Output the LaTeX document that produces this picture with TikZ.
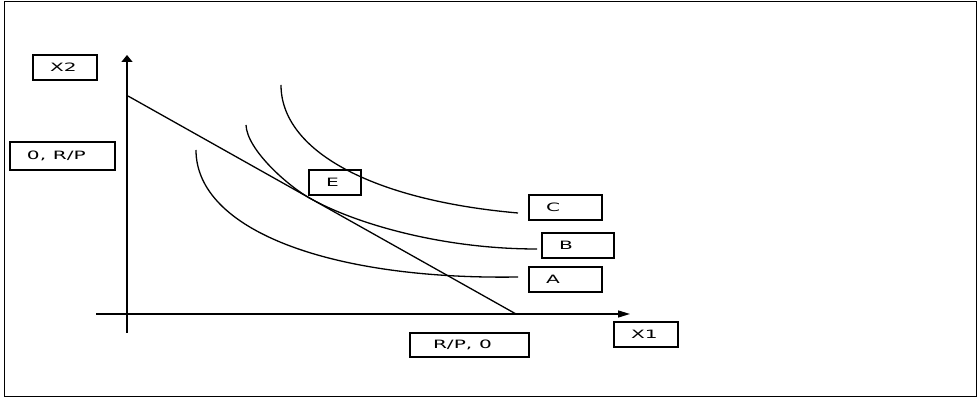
\documentclass[tikz,border=0pt]{standalone}
\usepackage{fontspec}
\usepackage{graphicx}
\newfontfamily\boxfont{DejaVu Sans}
\newcommand{\widetxt}[1]{\scalebox{1.75}[1]{#1}}
\usetikzlibrary{arrows.meta, positioning}

\begin{document}
\begin{tikzpicture}[
    x=1pt, y=1pt,
    lbl/.style={draw, line width=1.3pt, inner xsep=17pt, inner ysep=0pt, text width=#1, align=left, minimum height=25pt, font=\boxfont\fontsize{11.5}{12}\selectfont},
    curve/.style={line width=1.3pt}
]
    \useasboundingbox (0,0) rectangle (979,398);
    \draw[line width=1.4pt] (4.5,1.5) rectangle (976.5,396.5);
    \node[lbl=30pt] (x2) at (65,330.5) {\widetxt{X2}};
    \node[lbl=71pt, minimum height=28pt] (yint) at (62.5,242) {\widetxt{0, R/P}};
    \node[lbl=18pt] (e) at (335,215.5) {\widetxt{E}};
    \node[lbl=39pt] (c) at (565.5,190.5) {\widetxt{C}};
    \node[lbl=38pt] (b) at (578,152.5) {\widetxt{B}};
    \node[lbl=39pt] (a) at (565.5,118.5) {\widetxt{A}};
    \node[lbl=30pt] (x1) at (646,63.5) {\widetxt{X1}};
    \node[lbl=85pt, minimum height=24pt] (xint) at (469.5,53) {\hspace*{6pt}\widetxt{R/P, 0}};
    \coordinate (ybot) at (127,65);
    \coordinate (ytop) at (127,343);
    \coordinate (xleft) at (96,84);
    \coordinate (xright) at (630,84);
    \coordinate (bl1) at (128,302);
    \coordinate (bl2) at (516,84);
    \coordinate (tang) at (310,199.7);
    \draw[line width=1.4pt, -{Triangle[length=7pt,width=11pt]}] (ybot) -- (ytop);
    \draw[line width=1.4pt, -{Triangle[length=12pt,width=7pt]}] (xleft) -- (xright);
    \draw[curve] (bl1) -- (bl2);
    \draw[curve] (196,248) .. controls (196,168) and (330,118) .. (518,121);
    \draw[curve] (246,273) .. controls (247,248) and (288.2,211.9) .. (tang)
        .. controls (353.5,175.2) and (440,149) .. (537,149);
    \draw[curve] (281,313) .. controls (281,248) and (370,198) .. (518,185);
\end{tikzpicture}
\end{document}
